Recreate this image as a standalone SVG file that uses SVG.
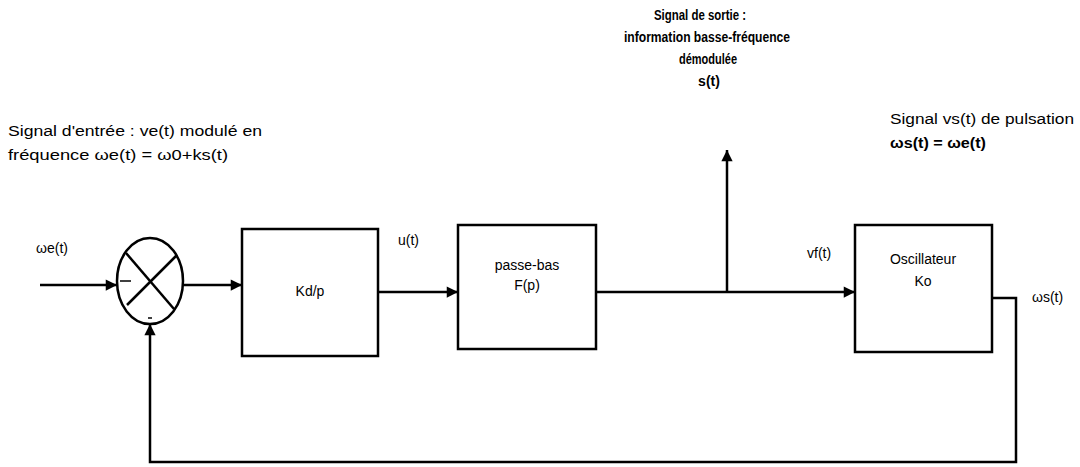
<svg xmlns="http://www.w3.org/2000/svg" width="1080" height="467" viewBox="0 0 1080 467">
<defs>
<style>
.t{font-family:"Liberation Sans",Arial,sans-serif;font-size:14px;fill:#000}
.b{font-weight:bold}
.box{fill:#fff;stroke:#000;stroke-width:2.5}
.ln{fill:none;stroke:#000;stroke-width:2.5}
</style>
<marker id="ah" viewBox="0 0 10 10" refX="10" refY="5" markerWidth="5" markerHeight="4.5" orient="auto" markerUnits="strokeWidth">
<path d="M0,0 L10,5 L0,10 z" fill="#000"/>
</marker>
</defs>
<rect width="1080" height="467" fill="#fff"/>

<g id="texts">
<text class="t" x="8" y="136" textLength="254" lengthAdjust="spacingAndGlyphs">Signal d'entrée : ve(t) modulé en</text>
<text class="t" x="8" y="160" textLength="220" lengthAdjust="spacingAndGlyphs">fréquence   ωe(t) = ω0+ks(t)</text>
<text class="t b" x="700" y="20" text-anchor="middle" textLength="92" lengthAdjust="spacingAndGlyphs">Signal de sortie :</text>
<text class="t b" x="707" y="42" text-anchor="middle" textLength="166" lengthAdjust="spacingAndGlyphs">information basse-fréquence</text>
<text class="t b" x="708" y="64" text-anchor="middle" textLength="58" lengthAdjust="spacingAndGlyphs">démodulée</text>
<text class="t b" x="709" y="86" text-anchor="middle">s(t)</text>
<text class="t" x="890" y="124" textLength="184" lengthAdjust="spacingAndGlyphs">Signal  vs(t) de pulsation</text>
<text class="t b" x="890" y="148" textLength="96" lengthAdjust="spacingAndGlyphs">ωs(t) = ωe(t)</text>
<text class="t" x="36" y="253">ωe(t)</text>
<text class="t" x="398" y="245" font-size="16">u(t)</text>
<text class="t" x="807" y="258">vf(t)</text>
<text class="t" x="1032" y="302">ωs(t)</text>
</g>

<g id="comparator">
<ellipse cx="150" cy="281" rx="33" ry="43" class="ln"/>
<line x1="126" y1="253" x2="174" y2="309" class="ln"/>
<line x1="177" y1="255" x2="127" y2="305" class="ln"/>
<line x1="120" y1="281" x2="131" y2="281" stroke="#000" stroke-width="1.5"/>
<line x1="148" y1="318" x2="152" y2="318" stroke="#000" stroke-width="1.5"/>
</g>

<g id="kdp">
<rect x="242" y="229" width="136" height="127" class="box"/>
<text class="t" x="310" y="296" text-anchor="middle">Kd/p</text>
</g>

<g id="passebas">
<rect x="458" y="225" width="138" height="124" class="box"/>
<text class="t" x="527" y="270" text-anchor="middle">passe-bas</text>
<text class="t" x="527" y="290" text-anchor="middle">F(p)</text>
</g>

<g id="oscillateur">
<rect x="855" y="225" width="137" height="127" class="box"/>
<text class="t" x="923" y="264" text-anchor="middle">Oscillateur</text>
<text class="t" x="923" y="286" text-anchor="middle">Ko</text>
</g>

<g id="connectors">
<line x1="40" y1="285" x2="117" y2="285" class="ln" marker-end="url(#ah)"/>
<line x1="183" y1="285" x2="242" y2="285" class="ln" marker-end="url(#ah)"/>
<line x1="378" y1="292" x2="458" y2="292" class="ln" marker-end="url(#ah)"/>
<line x1="596" y1="292" x2="855" y2="292" class="ln" marker-end="url(#ah)"/>
<line x1="727" y1="292" x2="727" y2="150" class="ln" marker-end="url(#ah)"/>
<polyline points="992,298 1016,298 1016,462 150,462 150,324" class="ln" marker-end="url(#ah)"/>
</g>
</svg>
